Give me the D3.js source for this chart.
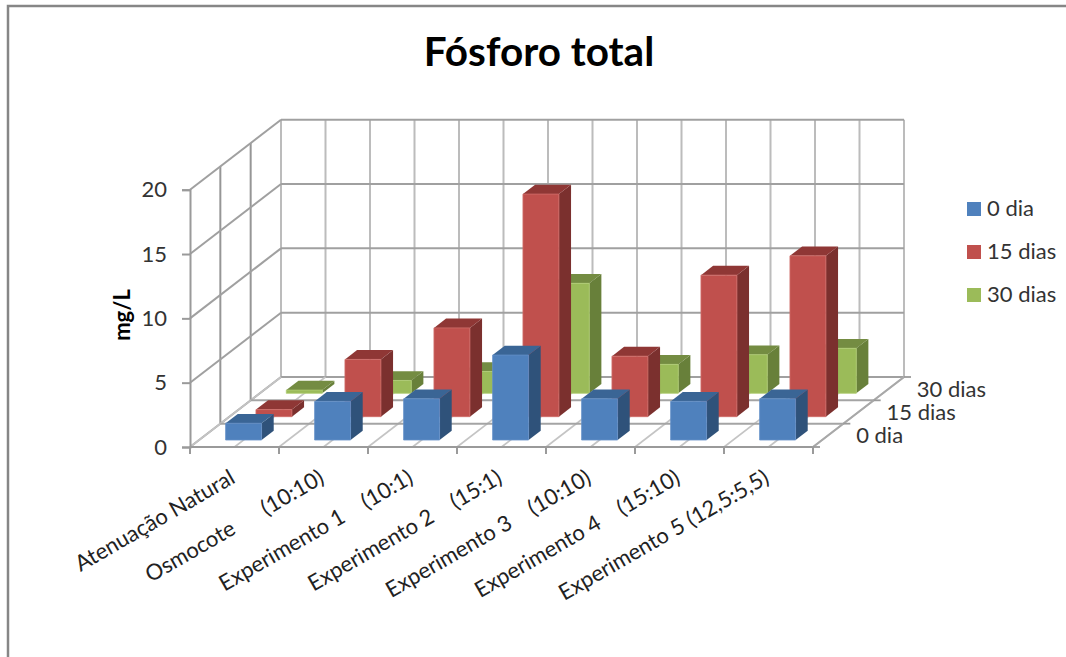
<!DOCTYPE html>
<html>
<head>
<meta charset="utf-8">
<script src="https://cdn.jsdelivr.net/npm/d3@7"></script>
<style>
  html, body { margin: 0; padding: 0; background: #fff; }
  svg { display: block; font-family: Lato, "Open Sans", sans-serif; }
  .tick text { font-family: Lato, "Open Sans", sans-serif; }
</style>
</head>
<body>
<div id="chart"></div>
<script>
const categories = [
  'Atenuação Natural',
  'Osmocote      (10:10)',
  'Experimento 1    (10:1)',
  'Experimento 2    (15:1)',
  'Experimento 3    (10:10)',
  'Experimento 4    (15:10)',
  'Experimento 5 (12,5:5,5)',
];
const seriesNames = ['0 dia', '15 dias', '30 dias'];
const dia0 = [1.3, 3.0, 3.2, 6.6, 3.2, 3.0, 3.2];
const dia15 = [0.55, 4.45, 6.9, 17.3, 4.7, 11.0, 12.5];
const dia30 = [0.25, 1.0, 1.7, 8.55, 2.25, 3.0, 3.5];
const yTicks = [0, 5, 10, 15, 20];

const seriesValues = [dia0, dia15, dia30];
const faceColors = [
  { front: '#4f81bd', top: '#3a6595', side: '#2f527a', edge: '#6591c8' },
  { front: '#c0504d', top: '#8f3735', side: '#7b302e', edge: '#cf6d6a' },
  { front: '#9bbb59', top: '#748c42', side: '#68803a', edge: '#b0cd74' },
];

const width = 1066;
const height = 657;

const svg = d3.select('#chart')
  .append('svg')
  .attr('width', width)
  .attr('height', height);

// outer chart border, only the top and left edges are in view
svg.append('path')
  .attr('d', `M8,${height}V6H${width}`)
  .attr('fill', 'none')
  .attr('stroke', '#868686')
  .attr('stroke-width', 2.5);

// front face scales
const x = d3.scaleBand()
  .domain(categories)
  .range([190, 813])
  .paddingInner(0.596)
  .paddingOuter(0.298);
const y = d3.scaleLinear().domain([0, 20]).range([447, 189.7]);

// depth runs from 0 (front) to 3 (back wall)
const depthX = d3.scaleLinear().domain([0, 3]).range([0, 91]);
const depthY = d3.scaleLinear().domain([0, 3]).range([0, -70]);
const depthBand = d3.scaleBand()
  .domain(seriesNames)
  .range([0, 3])
  .paddingInner(0.6)
  .paddingOuter(0.3);

const xLeft = x.range()[0];
const xRight = x.range()[1];
const xStep = x.step();

function project(px, depth, value) {
  return [px + depthX(depth), y(value) + depthY(depth)];
}

const line = d3.line();

function drawLine(parent, points, color, strokeWidth) {
  parent.append('path')
    .attr('d', line(points))
    .attr('fill', 'none')
    .attr('stroke', color)
    .attr('stroke-width', strokeWidth);
}

const grid = svg.append('g');
const halfSteps = d3.range(0, categories.length * 2 + 1).map(i => xLeft + (i * xStep) / 2);

// back wall
halfSteps.forEach(px => {
  drawLine(grid, [project(px, 3, 0), project(px, 3, 20)], '#bcbcbc', 2);
});
yTicks.forEach(v => {
  drawLine(grid, [project(xLeft, 3, v), project(xRight, 3, v)], '#a0a0a0', 2);
});

// side wall
[1, 2].forEach(d => {
  drawLine(grid, [project(xLeft, d, 0), project(xLeft, d, 20)], '#969696', 2);
});
yTicks.forEach(v => {
  drawLine(grid, [project(xLeft, 0, v), project(xLeft, 3, v)], '#a0a0a0', 2);
});

// floor
halfSteps.forEach(px => {
  drawLine(grid, [project(px, 0, 0), project(px, 3, 0)], '#c4c4c4', 1.6);
});
[1, 2].forEach(d => {
  drawLine(grid, [project(xLeft, d, 0), project(xRight, d, 0)], '#a4a4a4', 2);
});

// bars, back series first so the front ones overlap them
const bars = svg.append('g');
d3.range(seriesNames.length - 1, -1, -1).forEach(s => {
  const d0 = depthBand(seriesNames[s]);
  const d1 = d0 + depthBand.bandwidth();
  const colors = faceColors[s];
  categories.forEach((cat, i) => {
    const v = seriesValues[s][i];
    const a = x(cat);
    const b = a + x.bandwidth();
    const bar = bars.append('g');
    bar.append('path')
      .attr('d', line([project(b, d0, 0), project(b, d1, 0), project(b, d1, v), project(b, d0, v)]) + 'Z')
      .attr('fill', colors.side);
    bar.append('path')
      .attr('d', line([project(a, d0, v), project(b, d0, v), project(b, d1, v), project(a, d1, v)]) + 'Z')
      .attr('fill', colors.top);
    bar.append('path')
      .attr('d', line([project(a, d0, 0), project(b, d0, 0), project(b, d0, v), project(a, d0, v)]) + 'Z')
      .attr('fill', colors.front)
      .attr('stroke', colors.edge)
      .attr('stroke-width', 0.8);
  });
});

// value axis
const yAxis = svg.append('g')
  .attr('transform', `translate(${xLeft},0)`)
  .call(d3.axisLeft(y).tickValues(yTicks).tickSize(8).tickPadding(15));
yAxis.selectAll('.domain, line').attr('stroke', '#9a9a9a').attr('stroke-width', 2);
yAxis.selectAll('text')
  .attr('font-size', 22)
  .attr('fill', '#333');

// category axis
const axisLines = svg.append('g');
drawLine(axisLines, [project(xLeft, 0, 0), project(xRight, 0, 0)], '#9a9a9a', 2.2);
d3.range(0, categories.length + 1).forEach(i => {
  const px = xLeft + i * xStep;
  drawLine(axisLines, [[px, y(0)], [px, y(0) + 7]], '#9a9a9a', 2);
});

// depth axis along the right edge of the floor
drawLine(axisLines, [project(xRight, 0, 0), project(xRight, 3, 0)], '#a8a8a8', 2);
d3.range(0, 4).forEach(d => {
  const p = project(xRight, d, 0);
  drawLine(axisLines, [p, [p[0] + 7, p[1]]], '#9a9a9a', 1.8);
});

svg.append('g')
  .selectAll('text')
  .data(categories)
  .join('text')
  .attr('transform', d => `translate(${x(d) + x.bandwidth() / 2 + 2},${y(0) + 35}) rotate(-30)`)
  .attr('text-anchor', 'end')
  .attr('font-size', 22)
  .attr('fill', '#222')
  .attr('xml:space', 'preserve')
  .style('white-space', 'pre')
  .text(d => d);

// depth axis labels
svg.append('g')
  .selectAll('text')
  .data(seriesNames)
  .join('text')
  .attr('x', d => project(xRight, depthBand(d) + depthBand.bandwidth() / 2, 0)[0] + 28)
  .attr('y', d => project(xRight, depthBand(d) + depthBand.bandwidth() / 2, 0)[1] + 8)
  .attr('font-size', 22)
  .attr('fill', '#333')
  .text(d => d);

// title and value axis label
svg.append('text')
  .attr('x', 539)
  .attr('y', 66)
  .attr('text-anchor', 'middle')
  .attr('font-size', 40.5)
  .attr('font-weight', 700)
  .attr('fill', '#000')
  .text('Fósforo total');

svg.append('text')
  .attr('transform', 'translate(130,315) rotate(-90)')
  .attr('text-anchor', 'middle')
  .attr('font-size', 22)
  .attr('font-weight', 700)
  .attr('fill', '#000')
  .text('mg/L');

// legend
const legendY = d3.scalePoint().domain(seriesNames).range([209, 295]);
const legend = svg.append('g')
  .selectAll('g')
  .data(seriesNames)
  .join('g')
  .attr('transform', d => `translate(967,${legendY(d)})`);
legend.append('rect')
  .attr('y', -7)
  .attr('width', 14)
  .attr('height', 14)
  .attr('fill', (d, i) => faceColors[i].front);
legend.append('text')
  .attr('x', 20)
  .attr('y', 7)
  .attr('font-size', 22)
  .attr('fill', '#333')
  .text(d => d);
</script>
</body>
</html>
